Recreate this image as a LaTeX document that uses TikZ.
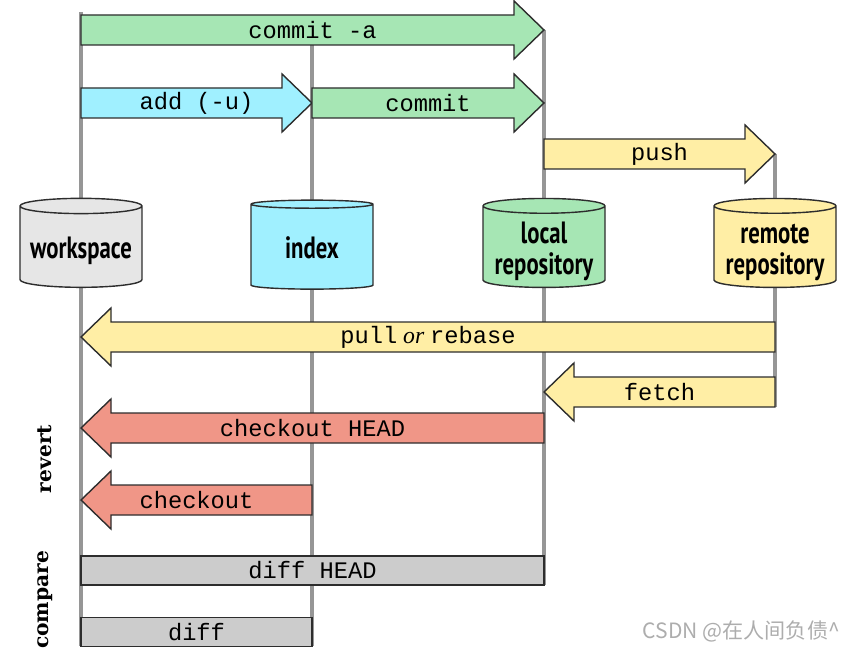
\documentclass[tikz,border=0pt]{standalone}
\usepackage{fontspec}
\setmainfont{Liberation Serif}
\setsansfont{PT Sans}
\setmonofont{Liberation Mono}
\newfontfamily\sidefont{DejaVu Serif}
\newfontfamily\cjkfont{Noto Sans CJK SC}
\usepackage{graphicx}
\usetikzlibrary{shapes.geometric}

\definecolor{lanegray}{RGB}{150,150,150}
\definecolor{wsgray}{RGB}{230,230,230}
\definecolor{idxblue}{RGB}{160,240,255}
\definecolor{locgreen}{RGB}{166,230,180}
\definecolor{remyellow}{RGB}{255,238,165}
\definecolor{revred}{RGB}{240,150,135}
\definecolor{cmpgray}{RGB}{204,204,204}
\definecolor{edgegray}{RGB}{45,45,45}

% text inside the repositories
\newcommand{\repotext}[1]{\raisebox{-3.2pt}[\height][\depth]{\scalebox{0.74}[1]{\begin{tabular}{@{}c@{}}#1\end{tabular}}}}

% arrow pointing right: name, from x, to x, y, colour, label
\newcommand{\toright}[6]{%
  \draw[cmdbox, fill=#5] (#2,#4-15) -- (#3-30,#4-15) -- (#3-30,#4-29) -- (#3,#4)
    -- (#3-30,#4+29) -- (#3-30,#4+15) -- (#2,#4+15) -- cycle;
  \node[cmdtext] (#1) at ({(#2+#3)/2},#4) {#6};
}
% arrow pointing left: name, tip x, end x, y, colour, label
\newcommand{\toleft}[6]{%
  \draw[cmdbox, fill=#5] (#3,#4-15) -- (#2+30,#4-15) -- (#2+30,#4-29) -- (#2,#4)
    -- (#2+30,#4+29) -- (#2+30,#4+15) -- (#3,#4+15) -- cycle;
  \node[cmdtext] (#1) at ({(#2+#3)/2},#4) {#6};
}
% plain bar: name, from x, to x, y, label
\newcommand{\cmpbar}[5]{%
  \draw[cmdbox, fill=cmpgray] (#2,#4-14.5) rectangle (#3,#4+14.5);
  \node[cmdtext] (#1) at ({(#2+#3)/2},#4) {#5};
}

\begin{document}
\begin{tikzpicture}[x=0.02cm, y=-0.02cm]
  \tikzset{lane/.style={line width=2.7pt, lanegray}}
  \tikzset{cmdbox/.style={draw=edgegray, line width=0.8pt, line join=miter}}
  \tikzset{cmdtext/.style={inner sep=0pt, font=\fontsize{13.5}{15}\selectfont\ttfamily}}
  \tikzset{repo/.style={cylinder, shape border rotate=90, draw=edgegray, line width=0.8pt,
      aspect=0.15, minimum width=2.44cm, minimum height=1.78cm, inner sep=0pt,
      font=\fontsize{17.5}{17.6}\selectfont\sffamily\bfseries}}
  \tikzset{side/.style={rotate=90, inner sep=0pt, font=\sidefont\bfseries\fontsize{11.5}{13}\selectfont}}
  \useasboundingbox (0,0) rectangle (857,651);

  % lanes
  \coordinate (ws top) at (81,12);   \coordinate (ws bot) at (81,646);
  \coordinate (idx top) at (312,45); \coordinate (idx bot) at (312,646);
  \coordinate (loc top) at (544,30); \coordinate (loc bot) at (544,585);
  \coordinate (rem top) at (775,154); \coordinate (rem bot) at (775,407);
  \draw[lane] (ws top) -- (ws bot);
  \draw[lane] (idx top) -- (idx bot);
  \draw[lane] (loc top) -- (loc bot);
  \draw[lane] (rem top) -- (rem bot);

  % repositories
  \node[repo, fill=wsgray] (workspace) at (81,247) {\repotext{workspace}};
  \node[repo, fill=idxblue] (index) at (312,247) {\repotext{index}};
  \node[repo, fill=locgreen] (local) at (544,247) {\repotext{local\\repository}};
  \node[repo, fill=remyellow] (remote) at (775,247) {\repotext{remote\\repository}};

  % commands
  \toright{commita}{81}{544}{30}{locgreen}{commit -a}
  \toright{add}{81}{312}{103}{idxblue}{add (-u)}
  \toright{commit}{312}{544}{103}{locgreen}{commit}
  \toright{push}{544}{775}{154}{remyellow}{push}
  \toleft{pull}{81}{775}{337}{remyellow}{pull{\rmfamily\itshape\ or\ }rebase}
  \toleft{fetch}{544}{775}{392}{remyellow}{fetch}
  \toleft{checkouthead}{81}{544}{428}{revred}{checkout HEAD}
  \toleft{checkout}{81}{312}{500}{revred}{checkout}
  \cmpbar{diffhead}{81}{544}{570.5}{diff HEAD}
  \cmpbar{diff}{81}{312}{632}{diff}

  \node[side] (revert) at (45,459) {revert};
  \node[side] (compare) at (45,600) {compare};
  \node[anchor=east, text=black!32, font=\cjkfont\fontsize{12}{14}\selectfont] (mark) at (846,631) {CSDN @在人间负债\textasciicircum};
\end{tikzpicture}
\end{document}
